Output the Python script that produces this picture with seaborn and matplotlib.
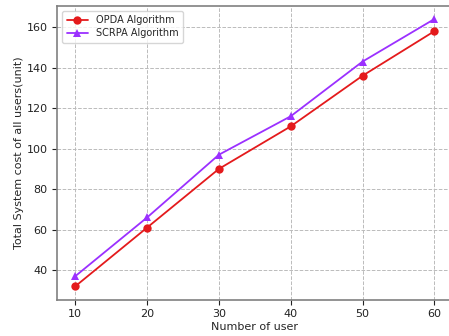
import numpy as np
import pandas as pd
import matplotlib
matplotlib.use('Agg')
import matplotlib.pyplot as plt
import seaborn as sns

users = [10, 20, 30, 40, 50, 60]
opda_cost = [32, 61, 90, 111, 136, 158]
scrpa_cost = [37, 66, 97, 116, 143, 164]
series_names = ['OPDA Algorithm', 'SCRPA Algorithm']

df = pd.DataFrame({
    'users': users * 2,
    'cost': opda_cost + scrpa_cost,
    'algo': [series_names[0]] * len(users) + [series_names[1]] * len(users),
})

sns.set_theme(context='notebook', style='ticks')
plt.rcParams['font.family'] = 'DejaVu Sans'
plt.rcParams['font.size'] = 8

fig = plt.figure(figsize=(4.49, 3.36), dpi=100)
ax = fig.add_axes([57.3 / 449, 1 - 299.7 / 336, 395 / 449, 294 / 336])

sns.lineplot(ax=ax, data=df, x='users', y='cost', hue='algo', style='algo',
             palette=['#e41a1c', '#9b30ff'], markers=['o', '^'], dashes=False,
             markersize=6, markeredgewidth=0, linewidth=1.3)

ax.set_xticks(users)
ax.set_yticks([40, 60, 80, 100, 120, 140, 160])
ax.tick_params(labelsize=8, length=3.5, width=0.8, colors='#222222')
ax.set_xlabel('Number of user', fontsize=8, labelpad=2)
ax.set_ylabel('Total System cost of all users(unit)', fontsize=8, labelpad=2)
ax.grid(True, ls='--', lw=0.7, color='#bbbbbb')
for s in ax.spines.values():
    s.set_visible(True)
    s.set_color('#808080')
    s.set_linewidth(1.2)
ax.spines['right'].set_visible(False)

leg = ax.legend(loc='upper left', fontsize=7, frameon=True, title=None,
                handlelength=2.2, borderpad=0.45, labelspacing=0.35)
leg.get_frame().set_edgecolor('#cccccc')

fig.savefig('out.png', dpi=100)
